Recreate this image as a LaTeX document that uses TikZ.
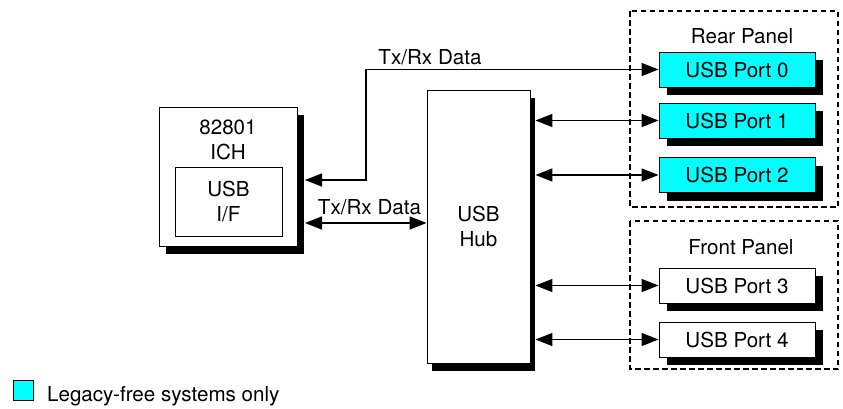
\documentclass[tikz,border=0pt]{standalone}
\usepackage{fontspec}
\setmainfont{TeX Gyre Heros}
\usetikzlibrary{arrows.meta,shadows}
\definecolor{portcyan}{HTML}{00FFFF}
\begin{document}
\begin{tikzpicture}[x=1pt,y=-1pt,
  font=\fontsize{20.6}{25}\selectfont,
  box/.style={draw,line width=0.9pt,fill=white,inner sep=0pt},
  shad/.style={drop shadow={shadow xshift=#1,shadow yshift=-8pt,fill=black,opacity=1}},
  shad/.default=8pt,
  port/.style={box,shad,minimum width=156pt,minimum height=35pt},
  conn/.style={line width=1.5pt,{Triangle[length=17pt,width=13pt]}-{Triangle[length=17pt,width=13pt]}},
  panel/.style={line width=1.4pt,dash pattern=on 5.5pt off 3.5pt},
  lbl/.style={inner sep=0pt}]
\useasboundingbox (0,0) rectangle (843,408);
% panels
\draw[panel] (630,11) rectangle (838,207);
\draw[panel] (630,221) rectangle (838,369);
\node[lbl] (rear) at (742,36) {Rear Panel};
\node[lbl] (front) at (741,247) {Front Panel};
% ICH
\node[box,shad=7pt,minimum width=138pt,minimum height=139pt] (ich) at (228,176.5) {};
\node[lbl,align=center] (ichtxt) at (228,139.5) {82801\\ICH};
\node[box,minimum width=107pt,minimum height=69pt,align=center] (usbif) at (228.5,201.5) {USB\\I/F};
% Hub
\node[box,shad=5pt,minimum width=103pt,minimum height=273pt,align=center] (hub) at (478.5,226.5) {USB\\Hub};
% Ports
\node[port,fill=portcyan] (p0) at (737,69.5) {USB Port 0};
\node[port,fill=portcyan] (p1) at (737,120.5) {USB Port 1};
\node[port,fill=portcyan] (p2) at (737,175) {USB Port 2};
\node[port] (p3) at (737,285.5) {USB Port 3};
\node[port] (p4) at (737,339.5) {USB Port 4};
% connectors
\coordinate (a1) at (305,180);
\coordinate (a2) at (305,223);
\coordinate (hubR) at ([xshift=5pt]hub.east);
\draw[conn] (a1) -- ++(61,0) |- (p0.west);
\draw[conn] (a2) -- (a2 -| hub.west);
\draw[conn] (hubR |- p1.west) -- (p1.west);
\draw[conn] (hubR |- p2.west) -- (p2.west);
\draw[conn] (hubR |- p3.west) -- (p3.west);
\draw[conn] (hubR |- p4.west) -- (p4.west);
\node[lbl] (t1) at (430,57) {Tx/Rx Data};
\node[lbl] (t2) at (369.5,207) {Tx/Rx Data};
% legend
\node[draw,line width=0.9pt,fill=portcyan,minimum size=20pt,inner sep=0pt] (leg) at (23,390) {};
\node[lbl,anchor=base west] (legtxt) at (47,401) {Legacy-free systems only};
\end{tikzpicture}
\end{document}
